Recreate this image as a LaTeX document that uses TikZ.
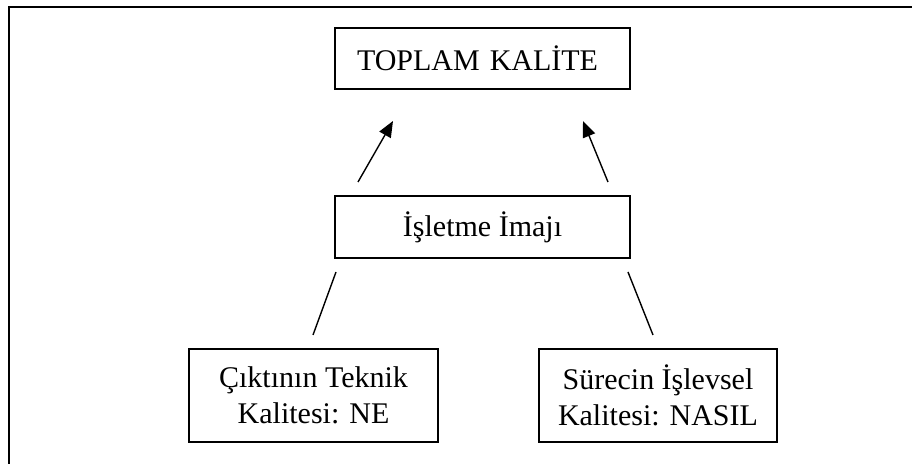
\documentclass[tikz,border=0pt]{standalone}
\usepackage{fontspec}
\setmainfont{Liberation Serif}
\usetikzlibrary{arrows.meta}
\begin{document}
\begin{tikzpicture}[x=0.5pt,y=-0.5pt,
  box/.style={draw,line width=1pt,align=center,font=\fontsize{15}{18}\selectfont,inner sep=0pt},
  conn/.style={line width=0.7pt},
  arr/.style={conn,-{Triangle[length=8pt,width=6.5pt]}}]
\useasboundingbox (0,0) rectangle (912,464);
\draw[line width=1pt] (9,465) -- (9,7) -- (913,7);
\node[box,minimum width=147.5pt,minimum height=30.5pt,text width=125.5pt,inner xsep=11pt,align=left] (top) at (482.5,58.5) {TOPLAM KALİTE};
\node[box,minimum width=147.5pt,minimum height=31pt] (mid) at (482.5,227) {İşletme İmajı};
\node[box,minimum width=124.5pt,minimum height=46.5pt] (left) at (313.5,395.5) {Çıktının Teknik\\Kalitesi: NE};
\node[box,minimum width=119pt,minimum height=46.5pt] (right) at (658,395.5) {Sürecin İşlevsel\\Kalitesi: NASIL};
\coordinate (a1s) at (358,182);
\coordinate (a1e) at (393,121);
\coordinate (a2s) at (608,182);
\coordinate (a2e) at (583,121);
\coordinate (l1s) at (336,272);
\coordinate (l1e) at (313,335);
\coordinate (l2s) at (628,272);
\coordinate (l2e) at (653,335);
\draw[arr] (a1s) -- (a1e);
\draw[arr] (a2s) -- (a2e);
\draw[conn] (l1s) -- (l1e);
\draw[conn] (l2s) -- (l2e);
\end{tikzpicture}
\end{document}
